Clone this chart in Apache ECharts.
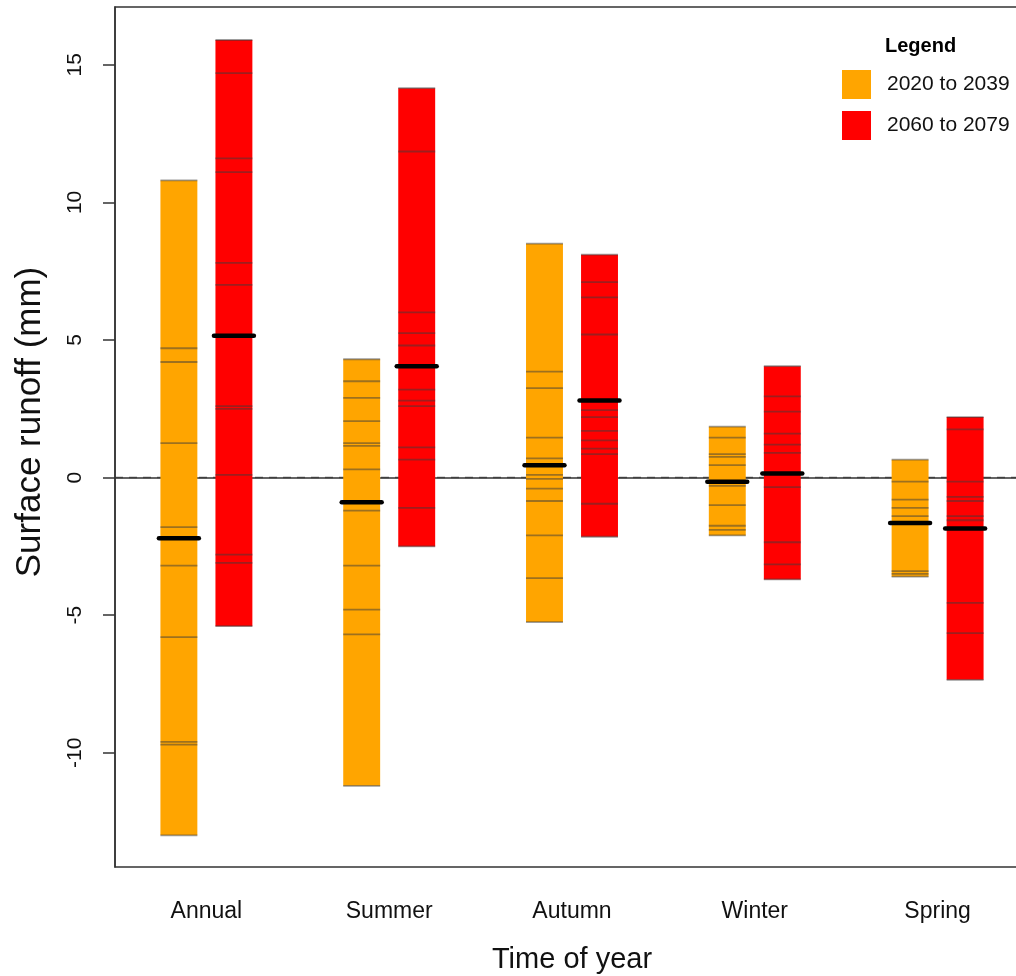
<!DOCTYPE html>
<html>
<head>
<meta charset="utf-8">
<script src="https://cdn.jsdelivr.net/npm/echarts@6/dist/echarts.min.js"></script>
<style>
  html, body { margin: 0; padding: 0; background: #fff; }
  #chart { width: 1016px; height: 976px; }
</style>
</head>
<body>
<div id="chart"></div>
<script>
// 数据：每个季节的各模型结果 (mm)
const categories = ['Annual', 'Summer', 'Autumn', 'Winter', 'Spring'];
const seriesNames = ['2020 to 2039', '2060 to 2079'];

const early = [
  [10.8, 4.7, 4.2, 1.25, -1.8, -3.2, -5.8, -9.6, -9.7, -13.0],
  [4.3, 3.5, 2.9, 2.05, 1.25, 1.15, 0.3, -1.2, -3.2, -4.8, -5.7, -11.2],
  [8.5, 3.85, 3.25, 1.45, 0.7, 0.1, -0.05, -0.4, -0.85, -2.1, -3.65, -5.25],
  [1.85, 1.45, 0.85, 0.75, 0.45, -0.3, -1.0, -1.75, -1.9, -2.1],
  [0.65, -0.15, -0.8, -1.1, -1.4, -3.4, -3.5, -3.6],
];
const earlyMedian = [-2.2, -0.9, 0.45, -0.15, -1.65];

const late = [
  [15.9, 14.7, 11.6, 11.1, 7.8, 7.0, 2.6, 2.5, 0.1, -2.8, -3.1, -5.4],
  [14.15, 11.85, 6.0, 5.25, 4.8, 3.2, 2.8, 2.6, 1.1, 0.65, -1.1, -2.5],
  [8.1, 7.1, 6.55, 5.2, 2.45, 2.2, 1.7, 1.35, 1.05, 0.85, -0.95, -2.15],
  [4.05, 2.95, 2.4, 1.6, 1.2, 0.9, -0.35, -2.35, -3.15, -3.7],
  [2.2, 1.75, -0.15, -0.7, -0.85, -1.4, -1.55, -4.55, -5.65, -7.35],
];
const lateMedian = [5.15, 4.05, 2.8, 0.15, -1.85];

const yTicks = [-10, -5, 0, 5, 10, 15];
const colors = ['#ffa500', '#ff0000'];

const FONT = '"Liberation Sans", Arial, sans-serif';

function rangeData(values, medians) {
  return values.map((vs, i) => [i, Math.min(...vs), Math.max(...vs), medians[i]]);
}

// 画一根浮动条：矩形 + 每个模型一条细线 + 中位数粗线
function makeRender(values, side, color) {
  return function (params, api) {
    const i = api.value(0);
    const band = api.size([1, 0])[0];
    const cx = api.coord([i, 0])[0] + side * band * 0.1505;
    const hw = band * 0.101;
    const top = api.coord([i, api.value(2)])[1];
    const bot = api.coord([i, api.value(1)])[1];
    const children = [{
      type: 'rect',
      shape: { x: cx - hw, y: top, width: hw * 2, height: bot - top },
      style: { fill: color },
    }];
    values[i].forEach((v) => {
      const y = api.coord([i, v])[1];
      children.push({
        type: 'line',
        shape: { x1: cx - hw, y1: y, x2: cx + hw, y2: y },
        style: { stroke: 'rgba(60,60,60,0.5)', lineWidth: 1.8 },
      });
    });
    const my = api.coord([i, api.value(3)])[1];
    children.push({
      type: 'line',
      shape: { x1: cx - hw - 1.5, y1: my, x2: cx + hw + 1.5, y2: my },
      style: { stroke: '#000', lineWidth: 4.5, lineCap: 'round' },
    });
    return { type: 'group', children };
  };
}

const chart = echarts.init(document.getElementById('chart'), null, { renderer: 'canvas' });

chart.setOption({
  backgroundColor: '#fff',
  animation: false,
  textStyle: { fontFamily: FONT },
  title: {
    text: 'Legend',
    left: 885,
    top: 36,
    padding: 0,
    textStyle: { fontFamily: FONT, fontSize: 20, fontWeight: 'bold', color: '#000' },
  },
  legend: {
    data: seriesNames,
    orient: 'vertical',
    left: 842,
    top: 70,
    padding: 0,
    icon: 'rect',
    itemWidth: 29,
    itemHeight: 29,
    itemGap: 12,
    textStyle: { fontFamily: FONT, fontSize: 21, color: '#111', padding: [2, 0, 0, 11] },
  },
  grid: {
    left: 115,
    right: -13,
    top: 7,
    bottom: 109,
    outerBoundsMode: 'none',
    containLabel: false,
    show: true,
    borderColor: '#333',
    borderWidth: 1.5,
  },
  xAxis: {
    type: 'category',
    data: categories,
    axisLine: { show: true, lineStyle: { color: '#333', width: 1.5 } },
    axisTick: { show: false },
    axisLabel: { fontFamily: FONT, fontSize: 23, color: '#111', margin: 33 },
    name: 'Time of year',
    nameLocation: 'middle',
    nameGap: 78,
    nameTextStyle: { fontFamily: FONT, fontSize: 29, color: '#111' },
  },
  yAxis: {
    type: 'value',
    min: -14.15,
    max: 17.1,
    // 只在 0 处显示虚线
    splitLine: {
      show: true,
      lineStyle: {
        color: yTicks.map((t) => (t === 0 ? '#666' : 'rgba(0,0,0,0)')),
        type: [8, 6],
        width: 1.3,
      },
    },
    axisLine: { show: true, lineStyle: { color: '#333', width: 1.5 } },
    axisTick: { show: true, customValues: yTicks, length: 12, lineStyle: { color: '#333', width: 1.5 } },
    axisLabel: { customValues: yTicks, rotate: 90, fontFamily: FONT, fontSize: 21, color: '#111', margin: 29 },
    name: 'Surface runoff (mm)',
    nameLocation: 'middle',
    nameRotate: 90,
    nameGap: 67,
    nameTextStyle: { fontFamily: FONT, fontSize: 35, color: '#111', padding: [0, 0, 0, 30] },
  },
  series: [
    {
      name: seriesNames[0],
      type: 'custom',
      z: 3,
      itemStyle: { color: colors[0] },
      renderItem: makeRender(early, -1, colors[0]),
      encode: { x: 0, y: [1, 2, 3] },
      data: rangeData(early, earlyMedian),
    },
    {
      name: seriesNames[1],
      type: 'custom',
      z: 3,
      itemStyle: { color: colors[1] },
      renderItem: makeRender(late, 1, colors[1]),
      encode: { x: 0, y: [1, 2, 3] },
      data: rangeData(late, lateMedian),
    },
  ],
});
</script>
</body>
</html>
